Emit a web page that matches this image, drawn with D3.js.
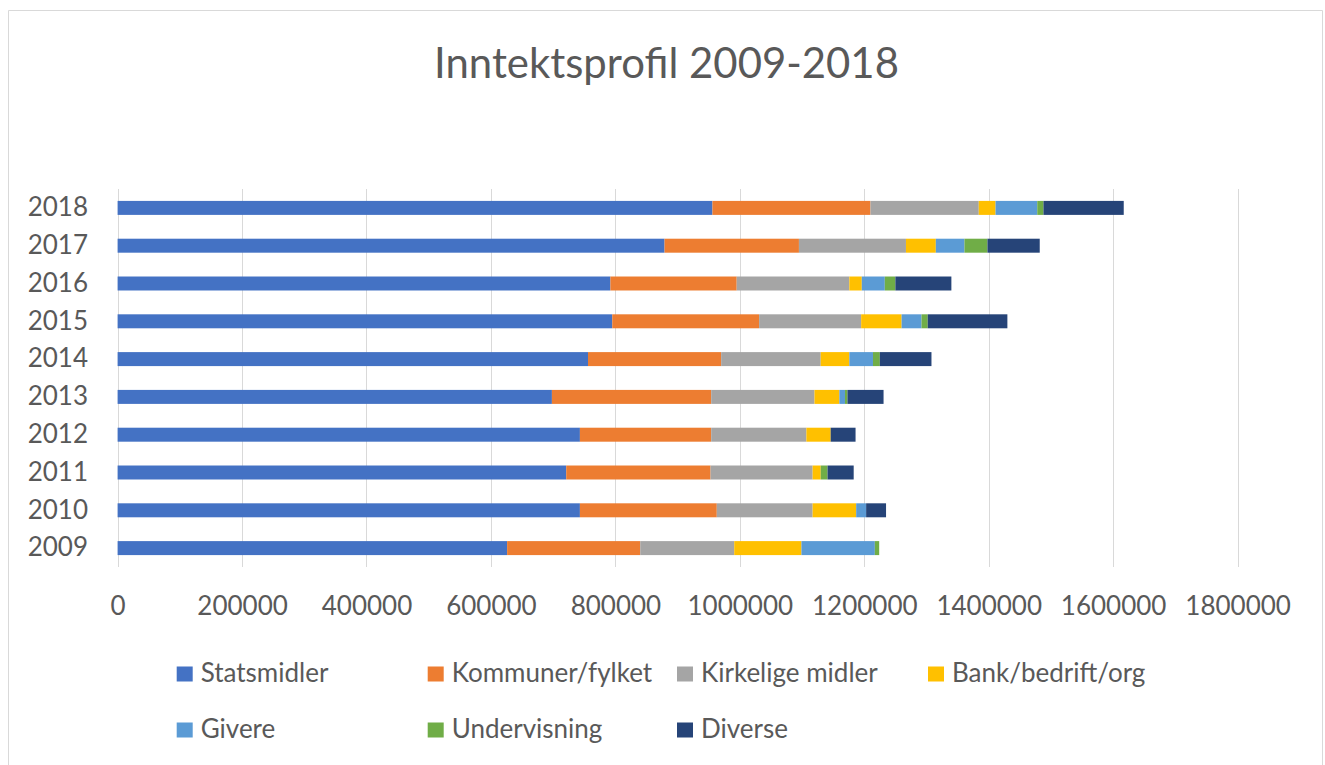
<!DOCTYPE html>
<html>
<head>
<meta charset="utf-8">
<script src="https://cdn.jsdelivr.net/npm/d3@7/dist/d3.min.js"></script>
<style>
  html, body { margin: 0; padding: 0; background: #fff; }
  svg { display: block; }
  text { font-family: Lato, "Open Sans", sans-serif; fill: #595959; }
</style>
</head>
<body>
<svg id="chart" width="1325" height="765"></svg>
<script>
// ---- data ----
const years = [2009, 2010, 2011, 2012, 2013, 2014, 2015, 2016, 2017, 2018];
const seriesNames = ["Statsmidler", "Kommuner/fylket", "Kirkelige midler", "Bank/bedrift/org", "Givere", "Undervisning", "Diverse"];
const statsmidler  = [626000, 743000, 721000, 743000, 698000, 756000, 795000, 792000, 879000, 956000];
const kommuner     = [214000, 220000, 232000, 211000, 256000, 214000, 236000, 203000, 216000, 254000];
const kirkelige    = [151000, 154000, 164000, 153000, 166000, 160000, 164000, 181000, 172000, 174000];
const bank         = [108000,  70000,  13000,  39000,  40000,  46000,  65000,  20000,  48000,  27000];
const givere       = [118000,  16000,      0,      0,   9000,  38000,  32000,  37000,  46000,  67000];
const undervisning = [  7000,      0,  11000,      0,   4000,  11000,  10000,  17000,  37000,  10000];
const diverse      = [     0,  32000,  42000,  40000,  58000,  83000, 128000,  90000,  84000, 129000];
const xTicks = [0, 200000, 400000, 600000, 800000, 1000000, 1200000, 1400000, 1600000, 1800000];
const colors = ["#4472C4", "#ED7D31", "#A5A5A5", "#FFC000", "#5B9BD5", "#70AD47", "#264478"];

const seriesArrays = [statsmidler, kommuner, kirkelige, bank, givere, undervisning, diverse];
const table = years.map((y, i) => {
  const row = { year: y };
  seriesNames.forEach((n, k) => row[n] = seriesArrays[k][i]);
  return row;
});

const svg = d3.select("#chart");

// frame
svg.append("path")
  .attr("d", "M8.5,765 L8.5,10.5 L1322.5,10.5 L1322.5,765")
  .attr("fill", "none").attr("stroke", "#d9d9d9").attr("stroke-width", 1);

// scales
const x = d3.scaleLinear().domain([0, 1800000]).range([117.6, 1237.6]);
const y = d3.scaleBand().domain(years.slice().reverse().map(String))
  .range([189, 567]).paddingInner(0.63).paddingOuter(0.315);

// gridlines
svg.append("g").selectAll("line").data(xTicks).join("line")
  .attr("x1", d => Math.round(x(d)) + 0.5).attr("x2", d => Math.round(x(d)) + 0.5)
  .attr("y1", 189).attr("y2", 567)
  .attr("stroke", "#d9d9d9").attr("stroke-width", 1);

// stacked bars
const stack = d3.stack().keys(seriesNames);
const stacked = stack(table);
svg.append("g").selectAll("g").data(stacked).join("g")
  .attr("fill", (d, i) => colors[i])
  .selectAll("rect").data(d => d).join("rect")
  .attr("x", d => x(d[0]))
  .attr("width", d => Math.max(0, x(d[1]) - x(d[0])))
  .attr("y", d => y(String(d.data.year)))
  .attr("height", y.bandwidth());

// x axis labels
const xAxis = d3.axisBottom(x).tickValues(xTicks).tickSize(0).tickFormat(d3.format("d"));
const gx = svg.append("g").attr("transform", "translate(0,594)").call(xAxis);
gx.select(".domain").remove();
gx.selectAll("text").attr("font-size", 26).attr("fill", "#595959")
  .attr("font-family", "Lato, 'Open Sans', sans-serif").attr("dy", "0.71em");

// y axis labels
const yAxis = d3.axisLeft(y).tickSize(0).tickPadding(0);
const gy = svg.append("g").attr("transform", "translate(88,0)").call(yAxis);
gy.select(".domain").remove();
gy.selectAll("text").attr("font-size", 26).attr("fill", "#595959")
  .attr("font-family", "Lato, 'Open Sans', sans-serif");

// title
const title = svg.append("text")
  .attr("x", 666.5).attr("y", 78)
  .attr("text-anchor", "middle")
  .attr("font-size", 36)
  .text("Inntektsprofil 2009-2018");
const tw = title.node().getComputedTextLength();
title.attr("font-size", 36 * 465 / tw);

// legend
const legendPos = [
  [176.7, 0], [427.7, 0], [677, 0], [928, 0],
  [176.7, 1], [427.7, 1], [677, 1]
];
const rowY = [674, 730];
const lg = svg.append("g").selectAll("g").data(seriesNames).join("g")
  .attr("transform", (d, i) => `translate(${legendPos[i][0]},${rowY[legendPos[i][1]]})`);
lg.append("rect").attr("x", 0).attr("y", -7.5).attr("width", 16).attr("height", 15)
  .attr("fill", (d, i) => colors[i]);
lg.append("text").attr("x", 24).attr("y", 8).attr("font-size", 26).text(d => d);
</script>
</body>
</html>
